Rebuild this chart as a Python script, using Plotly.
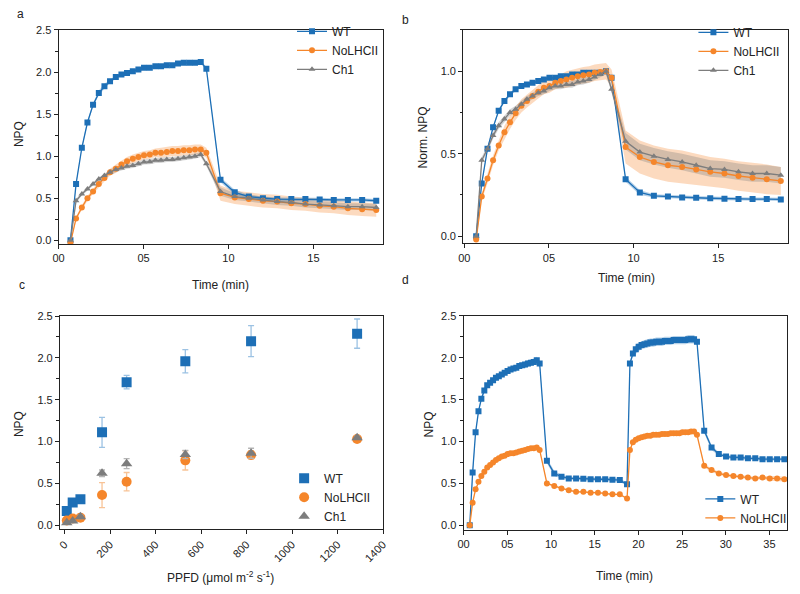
import plotly.graph_objects as go

# ---------------- data ----------------
T_AB = [0.70, 1.03, 1.37, 1.70, 2.03, 2.37, 2.70, 3.03, 3.37, 3.70, 4.03, 4.37, 4.70,
        5.03, 5.37, 5.70, 6.03, 6.37, 6.70, 7.03, 7.37, 7.70, 8.03, 8.37, 8.70,
        9.53, 10.37, 11.20, 12.03, 12.87, 13.70, 14.53, 15.37, 16.20, 17.03, 17.87, 18.70]

# panel a (NPQ)
WT_a = [0.00, 0.67, 1.10, 1.40, 1.61, 1.75, 1.83, 1.89, 1.94, 1.97, 1.99, 2.01, 2.03,
        2.05, 2.05, 2.07, 2.07, 2.08, 2.08, 2.10, 2.11, 2.11, 2.11, 2.12, 2.04,
        0.72, 0.57, 0.52, 0.50, 0.49, 0.49, 0.49, 0.485, 0.48, 0.48, 0.48, 0.47]
WT_a_sd = [0.01, 0.02, 0.02, 0.02, 0.02, 0.03, 0.03, 0.02, 0.02, 0.02, 0.02, 0.02, 0.02,
           0.02, 0.02, 0.02, 0.02, 0.02, 0.02, 0.02, 0.02, 0.02, 0.02, 0.02, 0.02,
           0.03, 0.03, 0.02, 0.02, 0.02, 0.02, 0.02, 0.02, 0.02, 0.02, 0.02, 0.02]
NO_a = [-0.03, 0.26, 0.39, 0.50, 0.58, 0.67, 0.74, 0.81, 0.85, 0.90, 0.94, 0.97, 0.99,
        1.01, 1.02, 1.04, 1.04, 1.05, 1.06, 1.06, 1.07, 1.07, 1.08, 1.08, 1.04,
        0.56, 0.51, 0.49, 0.47, 0.46, 0.44, 0.43, 0.41, 0.40, 0.38, 0.37, 0.36]
NO_a_sd = [0.01, 0.02, 0.03, 0.03, 0.03, 0.04, 0.04, 0.04, 0.05, 0.05, 0.05, 0.05, 0.05,
           0.05, 0.05, 0.05, 0.06, 0.06, 0.06, 0.06, 0.06, 0.06, 0.06, 0.06, 0.06,
           0.09, 0.08, 0.08, 0.08, 0.08, 0.08, 0.08, 0.08, 0.08, 0.08, 0.08, 0.08]
CH_a = [0.00, 0.47, 0.55, 0.61, 0.67, 0.73, 0.77, 0.81, 0.84, 0.86, 0.88, 0.89, 0.91,
        0.93, 0.935, 0.95, 0.95, 0.96, 0.96, 0.97, 0.98, 0.99, 1.00, 1.02, 0.91,
        0.58, 0.52, 0.50, 0.48, 0.46, 0.45, 0.43, 0.42, 0.41, 0.40, 0.40, 0.39]
CH_a_sd = [0.01, 0.02, 0.02, 0.02, 0.02, 0.02, 0.02, 0.03, 0.03, 0.03, 0.03, 0.03, 0.03,
           0.03, 0.03, 0.03, 0.03, 0.03, 0.03, 0.03, 0.03, 0.03, 0.03, 0.03, 0.03,
           0.05, 0.04, 0.04, 0.04, 0.04, 0.04, 0.04, 0.04, 0.04, 0.04, 0.04, 0.04]

# panel b (normalised NPQ)
WT_b = [0.00, 0.32, 0.53, 0.66, 0.76, 0.82, 0.86, 0.89, 0.91, 0.92, 0.93, 0.94, 0.95,
        0.96, 0.96, 0.97, 0.97, 0.98, 0.98, 0.99, 0.99, 0.99, 0.99, 1.00, 0.96,
        0.345, 0.265, 0.245, 0.24, 0.235, 0.233, 0.23, 0.227, 0.225, 0.225, 0.225, 0.223]
WT_b_sd = [0.01, 0.01, 0.01, 0.01, 0.01, 0.01, 0.01, 0.01, 0.01, 0.01, 0.01, 0.01, 0.01,
           0.01, 0.01, 0.01, 0.01, 0.01, 0.01, 0.01, 0.01, 0.01, 0.01, 0.01, 0.01,
           0.015, 0.015, 0.01, 0.01, 0.01, 0.01, 0.01, 0.01, 0.01, 0.01, 0.01, 0.01]
NO_b = [-0.02, 0.24, 0.35, 0.46, 0.55, 0.63, 0.69, 0.745, 0.79, 0.82, 0.85, 0.875, 0.90,
        0.91, 0.93, 0.94, 0.95, 0.96, 0.97, 0.975, 0.98, 0.99, 0.995, 1.00, 0.96,
        0.54, 0.48, 0.45, 0.43, 0.42, 0.405, 0.39, 0.38, 0.365, 0.355, 0.345, 0.335]
NO_b_sd = [0.01, 0.02, 0.03, 0.03, 0.03, 0.04, 0.04, 0.04, 0.04, 0.04, 0.04, 0.04, 0.04,
           0.04, 0.04, 0.04, 0.05, 0.05, 0.05, 0.05, 0.05, 0.05, 0.05, 0.05, 0.05,
           0.10, 0.10, 0.10, 0.10, 0.10, 0.095, 0.09, 0.09, 0.09, 0.09, 0.09, 0.085]
CH_b = [0.00, 0.46, 0.53, 0.61, 0.67, 0.71, 0.75, 0.77, 0.80, 0.83, 0.85, 0.87, 0.88,
        0.90, 0.91, 0.91, 0.92, 0.92, 0.935, 0.94, 0.95, 0.965, 0.98, 1.00, 0.89,
        0.575, 0.51, 0.485, 0.465, 0.45, 0.43, 0.41, 0.405, 0.39, 0.38, 0.38, 0.37]
CH_b_sd = [0.01, 0.02, 0.02, 0.02, 0.02, 0.02, 0.02, 0.02, 0.02, 0.02, 0.02, 0.02, 0.02,
           0.02, 0.02, 0.02, 0.02, 0.02, 0.02, 0.02, 0.02, 0.02, 0.02, 0.02, 0.02,
           0.05, 0.05, 0.05, 0.05, 0.05, 0.05, 0.05, 0.05, 0.05, 0.05, 0.05, 0.05]

# panel c (light response)
PPFD = [10, 36, 70, 165, 273, 531, 820, 1286]
WT_c = [0.17, 0.27, 0.31, 1.11, 1.71, 1.96, 2.20, 2.29]
WT_c_err = [0.02, 0.02, 0.02, 0.18, 0.08, 0.14, 0.185, 0.175]
NO_c = [0.055, 0.08, 0.09, 0.36, 0.52, 0.775, 0.84, 1.03]
NO_c_err = [0.01, 0.02, 0.02, 0.15, 0.11, 0.115, 0.05, 0.03]
CH_c = [0.03, 0.05, 0.10, 0.62, 0.735, 0.845, 0.86, 1.045]
CH_c_err = [0.01, 0.01, 0.02, 0.04, 0.06, 0.05, 0.06, 0.02]

# panel d (two light periods)
T_D = [0.70, 1.03, 1.37, 1.70, 2.03, 2.37, 2.70, 3.03, 3.37, 3.70, 4.03, 4.37, 4.70,
       5.03, 5.37, 5.70, 6.03, 6.37, 6.70, 7.03, 7.37, 7.70, 8.03, 8.37, 8.70,
       9.53, 10.37, 11.20, 12.03, 12.87, 13.70, 14.53, 15.37, 16.20, 17.03, 17.87, 18.70,
       19.03, 19.37, 19.70, 20.03, 20.37, 20.70, 21.03, 21.37, 21.70, 22.03, 22.37, 22.70,
       23.03, 23.37, 23.70, 24.03, 24.37, 24.70, 25.03, 25.37, 25.70, 26.03, 26.37, 26.70,
       27.53, 28.37, 29.20, 30.03, 30.87, 31.70, 32.53, 33.37, 34.20, 35.03, 35.87, 36.70]
WT_d = [0.00, 0.63, 1.11, 1.36, 1.51, 1.61, 1.67, 1.70, 1.73, 1.76, 1.78, 1.80, 1.82,
        1.84, 1.86, 1.87, 1.88, 1.90, 1.91, 1.92, 1.93, 1.94, 1.95, 1.97, 1.93,
        0.77, 0.62, 0.58, 0.56, 0.56, 0.555, 0.55, 0.55, 0.55, 0.545, 0.54, 0.49,
        1.93, 2.05, 2.10, 2.13, 2.15, 2.16, 2.17, 2.18, 2.18, 2.19, 2.19, 2.19,
        2.20, 2.20, 2.20, 2.21, 2.21, 2.21, 2.21, 2.21, 2.22, 2.22, 2.22, 2.19,
        1.13, 0.93, 0.85, 0.82, 0.81, 0.81, 0.80, 0.80, 0.79, 0.79, 0.79, 0.79]
WT_d_sd = [0.01, 0.02, 0.02, 0.02, 0.02, 0.03, 0.03, 0.03, 0.03, 0.03, 0.03, 0.03, 0.03,
           0.03, 0.03, 0.03, 0.03, 0.03, 0.03, 0.04, 0.04, 0.04, 0.04, 0.04, 0.03,
           0.03, 0.03, 0.02, 0.02, 0.02, 0.02, 0.02, 0.02, 0.02, 0.02, 0.02, 0.02,
           0.03, 0.04, 0.05, 0.05, 0.05, 0.05, 0.05, 0.05, 0.05, 0.05, 0.05, 0.05,
           0.05, 0.05, 0.05, 0.05, 0.05, 0.05, 0.05, 0.05, 0.05, 0.05, 0.05, 0.04,
           0.03, 0.03, 0.02, 0.02, 0.02, 0.02, 0.02, 0.02, 0.02, 0.02, 0.02, 0.02]
NO_d = [0.00, 0.27, 0.43, 0.52, 0.59, 0.64, 0.69, 0.72, 0.75, 0.78, 0.80, 0.82, 0.83,
        0.85, 0.86, 0.86, 0.87, 0.88, 0.89, 0.90, 0.91, 0.92, 0.92, 0.93, 0.90,
        0.50, 0.47, 0.44, 0.42, 0.40, 0.40, 0.39, 0.39, 0.38, 0.37, 0.37, 0.32,
        0.90, 0.99, 1.02, 1.04, 1.05, 1.06, 1.07, 1.07, 1.08, 1.08, 1.08, 1.09,
        1.09, 1.09, 1.10, 1.10, 1.10, 1.10, 1.11, 1.11, 1.11, 1.12, 1.12, 1.08,
        0.71, 0.66, 0.62, 0.60, 0.59, 0.58, 0.57, 0.56, 0.57, 0.56, 0.56, 0.55]
NO_d_sd = [0.01, 0.01, 0.01, 0.01, 0.01, 0.01, 0.01, 0.01, 0.01, 0.01, 0.01, 0.01, 0.01,
           0.01, 0.01, 0.01, 0.01, 0.01, 0.01, 0.01, 0.01, 0.01, 0.01, 0.01, 0.01,
           0.01, 0.01, 0.01, 0.01, 0.01, 0.01, 0.01, 0.01, 0.01, 0.01, 0.01, 0.01,
           0.01, 0.01, 0.01, 0.01, 0.01, 0.01, 0.01, 0.01, 0.01, 0.01, 0.01, 0.01,
           0.01, 0.01, 0.01, 0.01, 0.01, 0.01, 0.01, 0.01, 0.01, 0.01, 0.01, 0.01,
           0.02, 0.02, 0.02, 0.02, 0.02, 0.02, 0.02, 0.02, 0.02, 0.03, 0.03, 0.03]

SERIES = ["WT", "NoLHCII", "Ch1"]
T_TICKS_AB = [0, 5, 10, 15]
T_TICKS_D = [0, 5, 10, 15, 20, 25, 30, 35]
T_TICKTEXT_AB = ["00", "05", "10", "15"]
T_TICKTEXT_D = ["00", "05", "10", "15", "20", "25", "30", "35"]

# ---------------- style ----------------
BLUE = "#1d6fb6"
ORANGE = "#f5862b"
GRAY = "#7d7d7d"
BAND = {BLUE: "rgba(29,111,182,0.32)", ORANGE: "rgba(245,134,43,0.30)", GRAY: "rgba(125,125,125,0.32)"}
ERRC = {BLUE: "#9cc2e3", ORANGE: "#f8c396", GRAY: "#b5b5b5"}
FONT = "Liberation Sans, Arial, sans-serif"
TXT = "#222222"

fig = go.Figure()


def band(x, y, sd, color, xa, ya):
    up = [a + b for a, b in zip(y, sd)]
    lo = [a - b for a, b in zip(y, sd)]
    fig.add_trace(go.Scatter(x=x, y=up, mode="lines", line=dict(width=0, color=color),
                             xaxis=xa, yaxis=ya, showlegend=False, hoverinfo="skip"))
    fig.add_trace(go.Scatter(x=x, y=lo, mode="lines", line=dict(width=0, color=color),
                             fill="tonexty", fillcolor=BAND[color],
                             xaxis=xa, yaxis=ya, showlegend=False, hoverinfo="skip"))


def line(x, y, name, color, symbol, xa, ya, leg, size=6):
    fig.add_trace(go.Scatter(x=x, y=y, name=name, mode="lines+markers",
                             line=dict(color=color, width=1.3),
                             marker=dict(symbol=symbol, size=size, color=color),
                             xaxis=xa, yaxis=ya, legend=leg))


# panel a
band(T_AB, NO_a, NO_a_sd, ORANGE, "x", "y")
band(T_AB, CH_a, CH_a_sd, GRAY, "x", "y")
band(T_AB, WT_a, WT_a_sd, BLUE, "x", "y")
line(T_AB, WT_a, SERIES[0], BLUE, "square", "x", "y", "legend")
line(T_AB, NO_a, SERIES[1], ORANGE, "circle", "x", "y", "legend")
line(T_AB, CH_a, SERIES[2], GRAY, "triangle-up", "x", "y", "legend")

# panel b
band(T_AB, NO_b, NO_b_sd, ORANGE, "x2", "y2")
band(T_AB, CH_b, CH_b_sd, GRAY, "x2", "y2")
band(T_AB, WT_b, WT_b_sd, BLUE, "x2", "y2")
line(T_AB, WT_b, SERIES[0], BLUE, "square", "x2", "y2", "legend2")
line(T_AB, NO_b, SERIES[1], ORANGE, "circle", "x2", "y2", "legend2")
line(T_AB, CH_b, SERIES[2], GRAY, "triangle-up", "x2", "y2", "legend2")

# panel c
for yv, err, name, color, sym in [(WT_c, WT_c_err, SERIES[0], BLUE, "square"),
                                   (NO_c, NO_c_err, SERIES[1], ORANGE, "circle"),
                                   (CH_c, CH_c_err, SERIES[2], GRAY, "triangle-up")]:
    fig.add_trace(go.Scatter(x=PPFD, y=yv, name=name, mode="markers",
                             marker=dict(symbol=sym, size=10, color=color),
                             error_y=dict(type="data", array=err, color=ERRC[color],
                                          thickness=1.3, width=3),
                             xaxis="x3", yaxis="y3", legend="legend3"))

# panel d
band(T_D, WT_d, WT_d_sd, BLUE, "x4", "y4")
band(T_D, NO_d, NO_d_sd, ORANGE, "x4", "y4")
line(T_D, WT_d, SERIES[0], BLUE, "square", "x4", "y4", "legend4")
line(T_D, NO_d, SERIES[1], ORANGE, "circle", "x4", "y4", "legend4")


def ax(domain, rng, anchor, **kw):
    d = dict(domain=domain, range=rng, anchor=anchor, showline=True, linecolor=TXT,
             linewidth=1, mirror=True, ticks="outside", ticklen=4, tickwidth=1,
             tickcolor=TXT, showgrid=False, zeroline=False,
             tickfont=dict(family=FONT, size=11, color=TXT))
    d.update(kw)
    return d


YMINOR = dict(ticks="outside", ticklen=2.5, tickcolor=TXT, dtick=0.25, showgrid=False)

W, H = 800, 594
def px(x):
    return x / W
def py(y):
    return 1 - y / H

LEG = dict(xanchor="left", yanchor="top", bgcolor="rgba(0,0,0,0)", traceorder="normal",
           font=dict(size=12, family=FONT, color=TXT), tracegroupgap=0, itemwidth=30)

fig.update_layout(
    width=W, height=H, margin=dict(l=0, r=0, t=0, b=0),
    paper_bgcolor="white", plot_bgcolor="white",
    font=dict(family=FONT, size=11, color=TXT),
    xaxis=ax([px(53.3), px(382.3)], [0, 19.1], "y", tickvals=T_TICKS_AB, ticktext=T_TICKTEXT_AB),
    yaxis=ax([py(241.5), py(24.3)], [-0.047, 2.5], "x", dtick=0.5, tick0=0, tickformat=".1f", minor=YMINOR),
    xaxis2=ax([px(463.5), px(793)], [-0.07, 19.13], "y2", tickvals=T_TICKS_AB, ticktext=T_TICKTEXT_AB),
    yaxis2=ax([py(240.7), py(24.3)], [-0.044, 1.25], "x2", dtick=0.5, tick0=0, tickformat=".1f", minor=YMINOR),
    xaxis3=ax([px(54.7), px(382.3)], [-20, 1400], "y3", dtick=200, tick0=0, tickangle=-45),
    yaxis3=ax([py(530), py(314.3)], [-0.044, 2.5], "x3", dtick=0.5, tick0=0, tickformat=".1f", minor=YMINOR),
    xaxis4=ax([px(464), px(792.3)], [0, 37.05], "y4", tickvals=T_TICKS_D, ticktext=T_TICKTEXT_D),
    yaxis4=ax([py(530.7), py(314)], [-0.05, 2.5], "x4", dtick=0.5, tick0=0, tickformat=".1f", minor=YMINOR),
    legend=dict(x=px(290), y=py(11), **LEG),
    legend2=dict(x=px(697), y=py(12), **LEG),
    legend3=dict(x=px(282), y=py(464), **LEG),
    legend4=dict(x=px(704), y=py(485), **LEG),
)

annots = [
    ("a", 15, 8, 0), ("b", 405, 14, 0), ("c", 16, 283, 0), ("d", 405, 278, 0),
    ("Time (min)", 217, 283, 0), ("Time (min)", 629, 276, 0),
    ("PPFD (μmol m<sup>-2</sup> s<sup>-1</sup>)", 217, 579, 0), ("Time (min)", 627, 578, 0),
    ("NPQ", 13, 130, -90), ("Norm. NPQ", 423, 133, -90),
    ("NPQ", 13, 424, -90), ("NPQ", 429, 424, -90),
]
for text, x, y, ang in annots:
    fig.add_annotation(text=text, x=px(x), y=py(y), xref="paper", yref="paper",
                       showarrow=False, textangle=ang, xanchor="center", yanchor="middle",
                       font=dict(family=FONT, size=12, color=TXT))

fig.write_html("out.html", config={"displayModeBar": False},
               post_script="document.body.style.margin='0';")
